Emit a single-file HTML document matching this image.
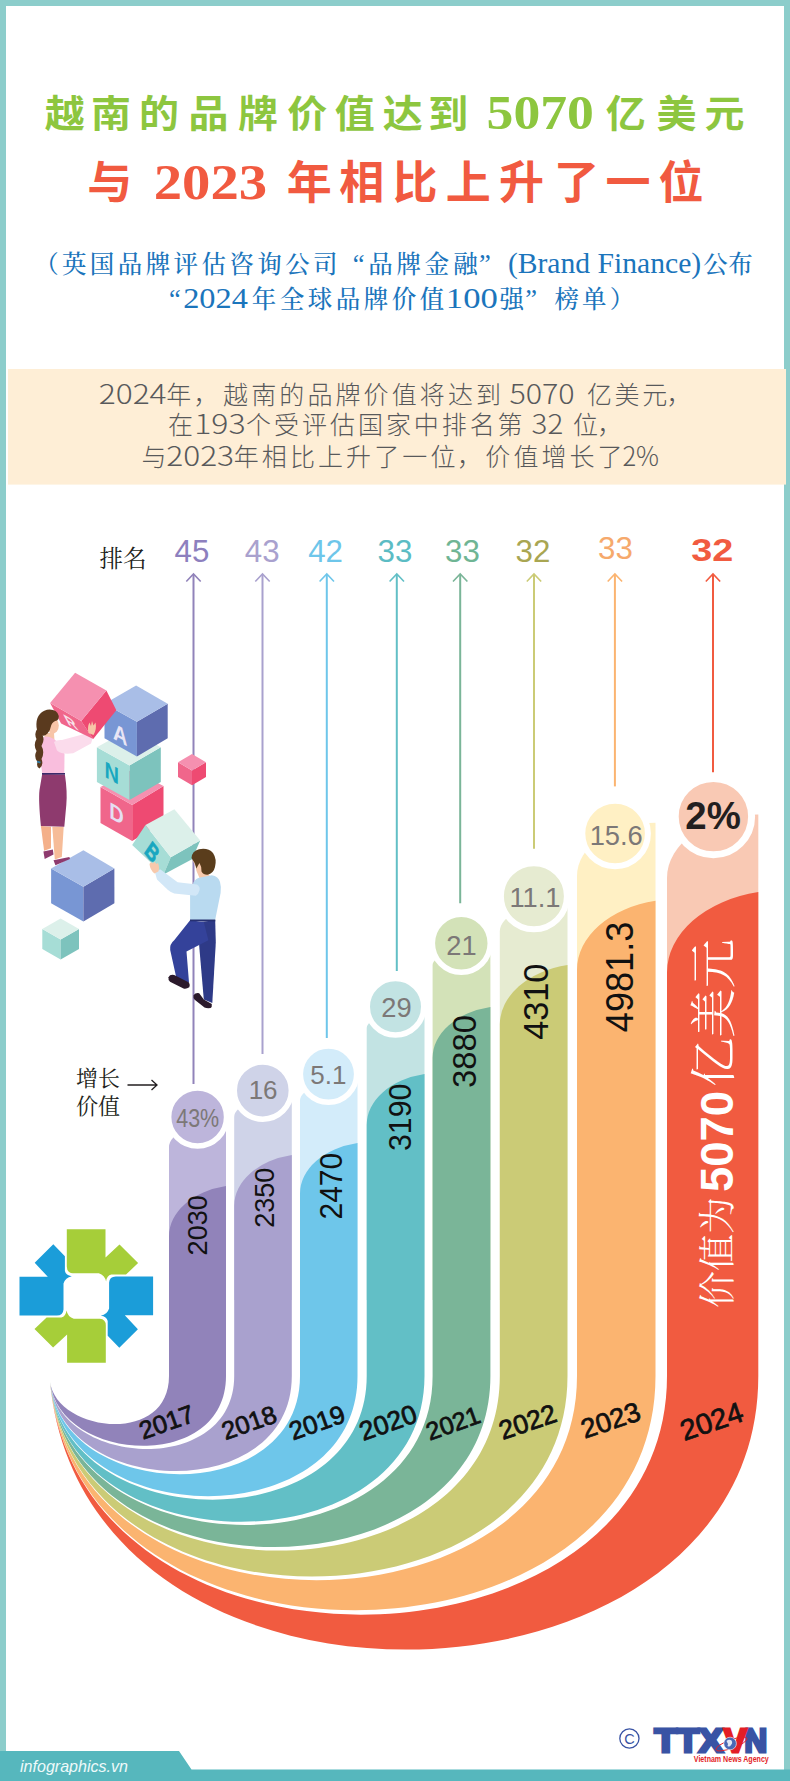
<!DOCTYPE html>
<html lang="zh"><head><meta charset="utf-8"><title>越南的品牌价值达到5070亿美元</title>
<style>html,body{margin:0;padding:0;background:#fff}svg{display:block}</style></head>
<body>
<svg width="790" height="1781" viewBox="0 0 790 1781">
<rect x="0" y="0" width="790" height="1781" fill="#fff"/>
<rect x="0" y="0" width="790" height="6" fill="#8ccdcb"/>
<rect x="0" y="0" width="6" height="1781" fill="#8ccdcb"/>
<rect x="784" y="0" width="6" height="1781" fill="#8ccdcb"/>
<path d="M0,1751 L179,1751 L191.5,1769.5 L790,1769.5 L790,1781 L0,1781 Z" fill="#56b7bd"/>
<text x="20" y="1771.5" font-family='"Liberation Sans","Noto Sans CJK SC",sans-serif' font-style="italic" font-size="17" fill="#eefafa" textLength="108" lengthAdjust="spacingAndGlyphs">infographics.vn</text>
<text x="64.8 111.0 159.1 208.5 258.0 307.3 354.8 402.8 448.3" y="127.5" font-family='"Noto Sans CJK SC","Liberation Sans",sans-serif' font-size="40" fill="#8dc63f" text-anchor="middle" font-weight="700" transform="translate(0,112) scale(1,0.94) translate(0,-112)">越南的品牌价值达到</text>
<text x="486.6" y="129" font-family='"Liberation Serif",serif' font-size="49.5" fill="#8dc63f" font-weight="700" textLength="107.3" lengthAdjust="spacingAndGlyphs">5070</text>
<text x="625.8 676.5 724.6" y="127.5" font-family='"Noto Sans CJK SC","Liberation Sans",sans-serif' font-size="40" fill="#8dc63f" text-anchor="middle" font-weight="700" transform="translate(0,112) scale(1,0.94) translate(0,-112)">亿美元</text>
<text x="109.8" y="199" font-family='"Noto Sans CJK SC","Liberation Sans",sans-serif' font-size="45" fill="#f15a40" text-anchor="middle" font-weight="700">与</text>
<text x="153.7" y="199.4" font-family='"Liberation Serif",serif' font-size="50.5" fill="#f15a40" font-weight="700" textLength="113.4" lengthAdjust="spacingAndGlyphs">2023</text>
<text x="309.2 361.8 415.0 468.3 521.5 576.5 627.9 681.0" y="199" font-family='"Noto Sans CJK SC","Liberation Sans",sans-serif' font-size="45" fill="#f15a40" text-anchor="middle" font-weight="700">年相比上升了一位</text>
<text x="46.5" y="273" font-family='"Noto Serif CJK SC","Liberation Serif",serif' font-size="24.5" fill="#1b75bc" text-anchor="middle" font-weight="500">（</text>
<text x="74.2 102.1 130.0 157.9 185.8 213.7 241.6 269.5 297.4 325.3" y="273" font-family='"Noto Serif CJK SC","Liberation Serif",serif' font-size="24.5" fill="#1b75bc" text-anchor="middle" font-weight="500">英国品牌评估咨询公司</text>
<text x="358.7" y="273" font-family='"Liberation Serif",serif' font-size="26.5" fill="#1b75bc" text-anchor="middle">“</text>
<text x="380.5 408.8 437.1 465.4" y="273" font-family='"Noto Serif CJK SC","Liberation Serif",serif' font-size="24.5" fill="#1b75bc" text-anchor="middle" font-weight="500">品牌金融</text>
<text x="484.8" y="273" font-family='"Liberation Serif",serif' font-size="26.5" fill="#1b75bc" text-anchor="middle">”</text>
<text x="507.9" y="273" font-family='"Liberation Serif",serif' font-size="29" fill="#1b75bc" textLength="193.3" lengthAdjust="spacingAndGlyphs">(Brand Finance)</text>
<text x="715.4 740.5" y="273" font-family='"Noto Serif CJK SC","Liberation Serif",serif' font-size="24.5" fill="#1b75bc" text-anchor="middle" font-weight="500">公布</text>
<text x="174.8" y="307.5" font-family='"Liberation Serif",serif' font-size="26.5" fill="#1b75bc" text-anchor="middle">“</text>
<text x="183.2" y="307.5" font-family='"Liberation Serif",serif' font-size="30" fill="#1b75bc" textLength="64.6" lengthAdjust="spacingAndGlyphs">2024</text>
<text x="264.0 292.0 320.0 348.0 376.0 404.0 432.0" y="307.5" font-family='"Noto Serif CJK SC","Liberation Serif",serif' font-size="24.5" fill="#1b75bc" text-anchor="middle" font-weight="500">年全球品牌价值</text>
<text x="445.8" y="307.5" font-family='"Liberation Serif",serif' font-size="30" fill="#1b75bc" textLength="52.0" lengthAdjust="spacingAndGlyphs">100</text>
<text x="511.7" y="307.5" font-family='"Noto Serif CJK SC","Liberation Serif",serif' font-size="24.5" fill="#1b75bc" text-anchor="middle" font-weight="500">强</text>
<text x="531.2" y="307.5" font-family='"Liberation Serif",serif' font-size="26.5" fill="#1b75bc" text-anchor="middle">”</text>
<text x="566.8 594.3" y="307.5" font-family='"Noto Serif CJK SC","Liberation Serif",serif' font-size="24.5" fill="#1b75bc" text-anchor="middle" font-weight="500">榜单</text>
<text x="622.0" y="307.5" font-family='"Noto Serif CJK SC","Liberation Serif",serif' font-size="24.5" fill="#1b75bc" text-anchor="middle" font-weight="500">）</text>
<rect x="8" y="369" width="778" height="115.6" fill="#feeed6"/>
<text x="98.7" y="403.8" font-family='"Noto Sans CJK SC","Liberation Sans",sans-serif' font-size="27" fill="#58595b" font-weight="300" textLength="67.9" lengthAdjust="spacingAndGlyphs">2024</text>
<text x="178.8" y="403.8" font-family='"Noto Sans CJK SC","Liberation Sans",sans-serif' font-size="25" fill="#58595b" text-anchor="middle" font-weight="300">年</text>
<text x="206.0" y="403.8" font-family='"Noto Sans CJK SC","Liberation Sans",sans-serif' font-size="25" fill="#58595b" text-anchor="middle" font-weight="300">，</text>
<text x="235.6 263.7 291.8 319.9 348.0 376.1 404.2 432.3 460.4 488.5" y="403.8" font-family='"Noto Sans CJK SC","Liberation Sans",sans-serif' font-size="25" fill="#58595b" text-anchor="middle" font-weight="300">越南的品牌价值将达到</text>
<text x="509.4" y="403.8" font-family='"Noto Sans CJK SC","Liberation Sans",sans-serif' font-size="27" fill="#58595b" font-weight="300" textLength="65.3" lengthAdjust="spacingAndGlyphs">5070</text>
<text x="599.4 627.1 654.8" y="403.8" font-family='"Noto Sans CJK SC","Liberation Sans",sans-serif' font-size="25" fill="#58595b" text-anchor="middle" font-weight="300">亿美元</text>
<text x="679.0" y="403.8" font-family='"Noto Sans CJK SC","Liberation Sans",sans-serif' font-size="25" fill="#58595b" text-anchor="middle" font-weight="300">，</text>
<text x="180.4" y="434.4" font-family='"Noto Sans CJK SC","Liberation Sans",sans-serif' font-size="25" fill="#58595b" text-anchor="middle" font-weight="300">在</text>
<text x="194.2" y="434.4" font-family='"Noto Sans CJK SC","Liberation Sans",sans-serif' font-size="27" fill="#58595b" font-weight="300" textLength="51.4" lengthAdjust="spacingAndGlyphs">193</text>
<text x="258.6 286.6 314.5 342.5 370.4 398.4 426.3 454.2 482.2 510.1" y="434.4" font-family='"Noto Sans CJK SC","Liberation Sans",sans-serif' font-size="25" fill="#58595b" text-anchor="middle" font-weight="300">个受评估国家中排名第</text>
<text x="531.6" y="434.4" font-family='"Noto Sans CJK SC","Liberation Sans",sans-serif' font-size="27" fill="#58595b" font-weight="300" textLength="31.6" lengthAdjust="spacingAndGlyphs">32</text>
<text x="585.5" y="434.4" font-family='"Noto Sans CJK SC","Liberation Sans",sans-serif' font-size="25" fill="#58595b" text-anchor="middle" font-weight="300">位</text>
<text x="609.8" y="434.4" font-family='"Noto Sans CJK SC","Liberation Sans",sans-serif' font-size="25" fill="#58595b" text-anchor="middle" font-weight="300">，</text>
<text x="154.0" y="466.3" font-family='"Noto Sans CJK SC","Liberation Sans",sans-serif' font-size="25" fill="#58595b" text-anchor="middle" font-weight="300">与</text>
<text x="166.2" y="466.3" font-family='"Noto Sans CJK SC","Liberation Sans",sans-serif' font-size="27" fill="#58595b" font-weight="300" textLength="67.9" lengthAdjust="spacingAndGlyphs">2023</text>
<text x="246.2 274.3 302.4 330.5 358.6 386.7 414.8 442.9" y="466.3" font-family='"Noto Sans CJK SC","Liberation Sans",sans-serif' font-size="25" fill="#58595b" text-anchor="middle" font-weight="300">年相比上升了一位</text>
<text x="469.6" y="466.3" font-family='"Noto Sans CJK SC","Liberation Sans",sans-serif' font-size="25" fill="#58595b" text-anchor="middle" font-weight="300">，</text>
<text x="497.8 525.9 553.9 582.0 610.0" y="466.3" font-family='"Noto Sans CJK SC","Liberation Sans",sans-serif' font-size="25" fill="#58595b" text-anchor="middle" font-weight="300">价值增长了</text>
<text x="622.4" y="466.3" font-family='"Noto Sans CJK SC","Liberation Sans",sans-serif' font-size="27" fill="#58595b" font-weight="300" textLength="36.6" lengthAdjust="spacingAndGlyphs">2%</text>
<path d="M193.5,1084 L193.5,575" fill="none" stroke="#9183ba" stroke-width="2"/>
<path d="M186.3,581.5 L193.5,574 L200.7,581.5" fill="none" stroke="#9183ba" stroke-width="1.6"/>
<path d="M262.5,1054 L262.5,575" fill="none" stroke="#a9a1ce" stroke-width="2"/>
<path d="M255.3,581.5 L262.5,574 L269.7,581.5" fill="none" stroke="#a9a1ce" stroke-width="1.6"/>
<path d="M326.8,1038 L326.8,575" fill="none" stroke="#6ec6ea" stroke-width="2"/>
<path d="M319.6,581.5 L326.8,574 L334.0,581.5" fill="none" stroke="#6ec6ea" stroke-width="1.6"/>
<path d="M396.8,971 L396.8,575" fill="none" stroke="#62bfc6" stroke-width="2"/>
<path d="M389.6,581.5 L396.8,574 L404.0,581.5" fill="none" stroke="#62bfc6" stroke-width="1.6"/>
<path d="M460.2,903.3 L460.2,575" fill="none" stroke="#7ab598" stroke-width="2"/>
<path d="M453.0,581.5 L460.2,574 L467.4,581.5" fill="none" stroke="#7ab598" stroke-width="1.6"/>
<path d="M534,848.8 L534,575" fill="none" stroke="#cbcb76" stroke-width="2"/>
<path d="M526.8,581.5 L534,574 L541.2,581.5" fill="none" stroke="#cbcb76" stroke-width="1.6"/>
<path d="M614.9,786.4 L614.9,575" fill="none" stroke="#fbb470" stroke-width="2"/>
<path d="M607.6999999999999,581.5 L614.9,574 L622.1,581.5" fill="none" stroke="#fbb470" stroke-width="1.6"/>
<path d="M713,772.3 L713,575" fill="none" stroke="#f15b40" stroke-width="2"/>
<path d="M705.8,581.5 L713,574 L720.2,581.5" fill="none" stroke="#f15b40" stroke-width="1.6"/>
<path d="M169,1300 L169,1147 A57.00,25.00 0 0 1 226,1122 L226,1300 Z" fill="#bdb5db"/>
<path d="M234.2,1300 L234.2,1117 A57.60,21.40 0 0 1 291.8,1095.6 L291.8,1300 Z" fill="#cfd3e8"/>
<path d="M300,1300 L300,1101 A57.50,21.90 0 0 1 357.5,1079.1 L357.5,1300 Z" fill="#d3ecfa"/>
<path d="M366.7,1300 L366.7,1028 A57.80,16.20 0 0 1 424.5,1011.8 L424.5,1300 Z" fill="#c2e3e3"/>
<path d="M432.6,1300 L432.6,965 A57.80,16.70 0 0 1 490.4,948.3 L490.4,1300 Z" fill="#d3e2b8"/>
<path d="M499.8,1300 L499.8,931.5 A67.70,30.30 0 0 1 567.5,901.2 L567.5,1300 Z" fill="#e6ebd1"/>
<path d="M577,1300 L577,875.7 A78.50,52.90 0 0 1 655.5,822.8 L655.5,1300 Z" fill="#fff0c4"/>
<path d="M667,1300 L667,878 A91.30,63.60 0 0 1 758.3,814.4 L758.3,1300 Z" fill="#f9c9b4"/>
<path d="M169,1276.16 L169,1236.16 A72.39,51.33 0 0 1 226,1186 L226,1376.0 C226.00,1473.60 58.80,1462.82 50.0,1381.5 C55.95,1431.76 169.00,1446.53 169.00,1376.0 Z" fill="#9183ba"/>
<path d="M234.2,1245.688 L234.2,1205.688 A73.15,51.87 0 0 1 291.8,1155 L291.8,1376.0 C291.80,1504.86 62.09,1498.68 50.0,1381.5 C59.21,1467.29 234.20,1477.49 234.20,1376.0 Z" fill="#a9a1ce"/>
<path d="M300,1233.6 L300,1193.6 A73.03,51.78 0 0 1 357.5,1143 L357.5,1376.0 C357.50,1536.06 65.38,1534.49 50.0,1381.5 C62.50,1503.15 300.00,1508.75 300.00,1376.0 Z" fill="#6ec6ea"/>
<path d="M366.7,1164.864 L366.7,1124.864 A73.41,52.05 0 0 1 424.5,1074 L424.5,1376.0 C424.50,1567.89 68.72,1571.00 50.0,1381.5 C65.84,1539.50 366.70,1540.43 366.70,1376.0 Z" fill="#62bfc6"/>
<path d="M432.6,1097.864 L432.6,1057.864 A73.41,52.05 0 0 1 490.4,1007 L490.4,1376.0 C490.40,1599.19 72.02,1606.92 50.0,1381.5 C69.13,1575.42 432.60,1571.74 432.60,1376.0 Z" fill="#7ab598"/>
<path d="M499.8,1064.576 L499.8,1024.576 A85.98,60.97 0 0 1 567.5,965 L567.5,1376.0 C567.50,1635.81 75.88,1648.94 50.0,1381.5 C72.49,1612.04 499.80,1603.65 499.80,1376.0 Z" fill="#cbcb76"/>
<path d="M577,1009.88 L577,969.88 A99.70,70.70 0 0 1 655.5,900.8 L655.5,1376.0 C655.50,1677.61 80.28,1696.90 50.0,1381.5 C76.35,1654.12 577.00,1640.33 577.00,1376.0 Z" fill="#fbb470"/>
<path d="M667,1012.3439999999999 L667,972.3439999999999 A115.95,82.22 0 0 1 758.3,892 L758.3,1376.0 C758.30,1726.44 85.41,1752.92 50.0,1381.5 C80.85,1703.16 667.00,1683.08 667.00,1376.0 Z" fill="#f15b40"/>
<circle cx="197.6" cy="1117" r="28.95" fill="#bdb5db" stroke="#fff" stroke-width="5.5"/>
<circle cx="262.8" cy="1090.6" r="28.55" fill="#cfd3e8" stroke="#fff" stroke-width="5.5"/>
<circle cx="328.5" cy="1074.1" r="28.15" fill="#d3ecfa" stroke="#fff" stroke-width="5.5"/>
<circle cx="395.5" cy="1006.8" r="28.25" fill="#c2e3e3" stroke="#fff" stroke-width="5.5"/>
<circle cx="461.3" cy="943.3" r="28.95" fill="#d3e2b8" stroke="#fff" stroke-width="5.5"/>
<circle cx="533.9" cy="896.2" r="33.0" fill="#e6ebd1" stroke="#fff" stroke-width="6"/>
<circle cx="615.1" cy="833.5" r="32.8" fill="#fff0c4" stroke="#fff" stroke-width="6"/>
<circle cx="713.4" cy="816.6" r="38.2" fill="#f9c9b4" stroke="#fff" stroke-width="7"/>
<polygon points="51.1,868.4 83.4,886.7 83.4,921.5 51.1,903.2" fill="#7896d4"/>
<polygon points="83.4,886.7 114.4,868.4 114.4,903.2 83.4,921.5" fill="#5e6caf"/>
<polygon points="83.4,850.3 114.4,868.4 83.4,886.7 51.1,868.4" fill="#a9bee7"/>
<polygon points="42.3,929.1 60.6,939.6 60.6,959.6 42.3,949.1" fill="#a6ddd6"/>
<polygon points="60.6,939.6 79.0,929.1 79.0,949.1 60.6,959.6" fill="#7dc3bd"/>
<polygon points="60.6,918.4 79.0,929.1 60.6,939.6 42.3,929.1" fill="#dcf0ea"/>
<polygon points="178.0,762.2 192.0,770.4 192.0,785.2 178.0,777.0" fill="#f0668b"/>
<polygon points="192.0,770.4 206.0,762.2 206.0,777.0 192.0,785.2" fill="#ee4a72"/>
<polygon points="192.0,753.9 206.0,762.2 192.0,770.4 178.0,762.2" fill="#f590b0"/>
<polygon points="100.5,787.1 132.2,805.1 132.2,841.1 100.5,823.1" fill="#f0668b"/>
<polygon points="132.2,805.1 163.5,786.1 163.5,822.1 132.2,841.1" fill="#ee4a72"/>
<polygon points="132.0,769.5 163.5,786.1 132.2,805.1 100.5,787.1" fill="#f590b0"/>
<polygon points="96.9,747.3 129.5,765.4 129.5,800.0 96.9,781.9" fill="#a6ddd6"/>
<polygon points="129.5,765.4 160.8,747.3 160.8,781.9 129.5,800.0" fill="#7dc3bd"/>
<polygon points="129.5,729.2 160.8,747.3 129.5,765.4 96.9,747.3" fill="#dcf0ea"/>
<polygon points="104.5,703.7 136.9,721.8 136.9,756.4 104.5,738.3" fill="#7896d4"/>
<polygon points="136.9,721.8 167.7,703.7 167.7,738.3 136.9,756.4" fill="#5e6caf"/>
<polygon points="136.1,685.6 167.7,703.7 136.9,721.8 104.5,703.7" fill="#a9bee7"/>
<polygon points="132.2,845.0 145.5,825.1 170.8,857.3 163.5,874.4" fill="#a6ddd6"/>
<polygon points="170.8,857.3 200.2,840.6 192.0,859.2 163.5,874.4" fill="#7dc3bd"/>
<polygon points="145.5,825.1 174.4,809.3 200.2,840.6 170.8,857.3" fill="#dcf0ea"/>
<polygon points="40.9,826.1 51.0,826.7 51.0,848.2 44.1,850.8" fill="#f4b08a"/>
<polygon points="52.3,826.7 63.7,826.7 61.8,857.1 54.8,859.6" fill="#f6bc98"/>
<polygon points="43.4,851.4 52.9,849.5 53.5,854.6 44.7,859.0" fill="#8e3a6e"/>
<polygon points="53.5,860.3 69.4,857.1 70.0,859.0 55.4,865.3" fill="#8e3a6e"/>
<path d="M42.2,774 L64.9,774.6 Q67.5,792 66.3,805 L64.3,826.7 L40.9,826.1 Q38.3,800 39.5,790 Z" fill="#8e3a6e"/>
<path d="M45,733 L54,733 L54.5,741 L44,740 Z" fill="#f7c5a8"/>
<path d="M43.4,737 Q48,735.5 53,738.5 Q62,744 64.5,754 L64.3,773.8 L42.2,773.2 Q39.5,756 40.8,748 Z" fill="#f9bedd"/>
<path d="M54,742 Q57,739.5 62,740 L88,733 L93,737 L91,743.5 L73.2,753.3 Q62,755 57,750.5 Z" fill="#fbdcec"/>
<polygon points="50.1,703.1 81.2,720.9 93.2,739.0 61.1,723.4" fill="#f0668b"/>
<polygon points="81.2,720.9 106.4,690.4 116.3,710.2 93.2,739.0" fill="#ee4a72"/>
<polygon points="50.1,703.1 75.1,672.8 106.4,690.4 81.2,720.9" fill="#f590b0"/>
<path d="M88.5,733 Q87,727 89.5,722.5 L91,726 L92,721 L93.5,725.5 L95.5,722.5 Q97,729 93.5,735 Z" fill="#f7c5a8"/>
<ellipse cx="52.6" cy="725.5" rx="6.2" ry="8.3" fill="#f7c5a8"/>
<path d="M36.5,727 Q35.5,713 47,709.8 Q56.5,708.5 58.8,716 Q59,719.5 57,720.5 Q53,721 51.3,725 Q50.5,730 47.5,733.5 Q44,737 41,735 Q37,733 36.5,727 Z" fill="#5a3a1e"/>
<path d="M38,728 Q33.5,733 36.5,739 Q33,745 36.5,751 Q33.5,757 37.5,762 Q36,767 39.5,768.5 Q44,765 41.5,759 Q45,752 41.5,746 Q45,740 42.5,735 Z" fill="#5a3a1e"/>
<rect x="37" y="761.2" width="3.6" height="1.8" fill="#2f7fa8" transform="rotate(20 38.8 762)"/>
<rect x="42" y="773" width="23" height="1.6" fill="#3b2a6b"/>
<polygon points="199.2,922.0 215.2,920.3 215.8,942.5 212.3,1002.9 203.8,999.5 199.2,945.9" fill="#2e3a87"/>
<path d="M190.1,920.3 L203.8,922 L208.4,940.2 L186.5,951.6 L189,982.4 L177.6,983.5 L170.2,950 Q169.5,944 174.2,940.2 Z" fill="#34429a"/>
<path d="M168.5,977.2 Q170,974 174.2,975 L189,982.4 Q190.5,985.5 189.3,987.3 Q186.5,989.3 183.5,988.6 L170,981.8 Q168,980 168.5,977.2 Z" fill="#2b1a2b"/>
<path d="M193.5,995.2 Q195.5,992.5 199.2,993.2 L203.8,999.5 L211.8,1004 Q212.2,1007 210.6,1008 Q207,1008.5 204.5,1007.5 L194.7,999.8 Q193,997.5 193.5,995.2 Z" fill="#2b1a2b"/>
<path d="M192.5,860 Q196,866 196.5,871 L199.5,878 L210,877 L207,868 L198,858 Z" fill="#f7c9ac"/>
<path d="M193.5,882.2 Q196,878 200.4,877.4 L211.8,875.3 Q218.5,876.5 220,882 Q221.5,887 220.6,893 L215.2,919.7 L190.1,920.3 L190.1,894.7 Z" fill="#b9daf0"/>
<rect x="190" y="919.5" width="25.3" height="1.8" fill="#263070"/>
<path d="M155,872.5 Q157,869.5 160.5,869.6 L177.6,882.2 L197,884.4 Q200.5,886.5 199.4,890.5 Q198.5,894.5 195.8,895.8 L174.2,893.5 Q171,892.5 168,890 L157,879.5 Z" fill="#d2e7f7"/>
<path d="M149.5,864 Q151,861.5 153,863.5 L154.5,861.8 L156.5,864 L158,863 Q160,868 158.3,871.5 L154.5,873.5 Q150,870 149.5,864 Z" fill="#f7c9ac"/>
<path d="M191.5,858 Q192,851 199,849.3 Q208,847.5 213,853 Q217,859 215,867 Q213.5,873.5 207.5,874.8 Q203.5,875 201.5,871.5 Q201.5,866 199.5,863 Q197.5,866 196.5,868.5 Q195.5,863 191.5,858 Z" fill="#5a3d1c"/>
<text transform="matrix(0.868,0.497,0.476,0.879,67.9,724.6)" font-family='"Liberation Sans","DejaVu Sans",sans-serif' font-weight="700" font-size="18" fill="#f9e3ec">R</text>
<text transform="matrix(0.872,0.49,0,1,113,738.5)" font-family='"Liberation Sans","DejaVu Sans",sans-serif' font-weight="700" font-size="23" fill="#e9e5f5">A</text>
<text transform="matrix(0.872,0.49,0,1,104.6,776.8)" font-family='"Liberation Sans","DejaVu Sans",sans-serif' font-weight="700" font-size="23" fill="#18a7c0">N</text>
<text transform="matrix(0.872,0.49,0,1,109.2,817.5)" font-family='"Liberation Sans","DejaVu Sans",sans-serif' font-weight="700" font-size="23" fill="#e6def1">D</text>
<text transform="matrix(0.618,0.787,-0.555,0.832,143.6,852.2)" font-family='"Liberation Sans","DejaVu Sans",sans-serif' font-weight="700" font-size="21" fill="#18a7c0" stroke="#18a7c0" stroke-width="0.7">B</text>
<text x="99.5" y="567" font-family='"Noto Serif CJK SC","Liberation Serif",serif' font-size="23.5" fill="#231f20">排名</text>
<text x="174.5" y="562.4" font-family='"Liberation Sans","Noto Sans CJK SC",sans-serif' font-size="30.5" fill="#8d80be" textLength="34.8" lengthAdjust="spacingAndGlyphs">45</text>
<text x="244.79999999999998" y="562.4" font-family='"Liberation Sans","Noto Sans CJK SC",sans-serif' font-size="30.5" fill="#a9a1ce" textLength="34.8" lengthAdjust="spacingAndGlyphs">43</text>
<text x="308.20000000000005" y="562.4" font-family='"Liberation Sans","Noto Sans CJK SC",sans-serif' font-size="30.5" fill="#6ec6ea" textLength="34.8" lengthAdjust="spacingAndGlyphs">42</text>
<text x="377.6" y="562.4" font-family='"Liberation Sans","Noto Sans CJK SC",sans-serif' font-size="30.5" fill="#5bbcc4" textLength="34.8" lengthAdjust="spacingAndGlyphs">33</text>
<text x="445.1" y="562.4" font-family='"Liberation Sans","Noto Sans CJK SC",sans-serif' font-size="30.5" fill="#6fb594" textLength="34.8" lengthAdjust="spacingAndGlyphs">33</text>
<text x="515.6" y="562.4" font-family='"Liberation Sans","Noto Sans CJK SC",sans-serif' font-size="30.5" fill="#a9a652" textLength="34.8" lengthAdjust="spacingAndGlyphs">32</text>
<text x="598.1" y="558.8" font-family='"Liberation Sans","Noto Sans CJK SC",sans-serif' font-size="30.5" fill="#f6a96c" textLength="34.8" lengthAdjust="spacingAndGlyphs">33</text>
<text x="691.3" y="561" font-family='"Liberation Sans","Noto Sans CJK SC",sans-serif' font-size="31.8" fill="#f15b40" font-weight="700" textLength="42" lengthAdjust="spacingAndGlyphs">32</text>
<text x="76" y="1086" font-family='"Noto Serif CJK SC","Liberation Serif",serif' font-size="22" fill="#231f20">增长</text>
<text x="76" y="1113.5" font-family='"Noto Serif CJK SC","Liberation Serif",serif' font-size="22" fill="#231f20">价值</text>
<path d="M127.5,1085 L157,1085 M151.5,1080 L157,1085 L151.5,1090" fill="none" stroke="#231f20" stroke-width="1.3"/>
<text x="176.2" y="1127.2" font-family='"Liberation Sans","Noto Sans CJK SC",sans-serif' font-size="26" fill="#7c7877" textLength="43" lengthAdjust="spacingAndGlyphs">43%</text>
<text x="263.1" y="1099.4" font-family='"Liberation Sans","Noto Sans CJK SC",sans-serif' font-size="26" fill="#7c7877" text-anchor="middle">16</text>
<text x="328.3" y="1084.2" font-family='"Liberation Sans","Noto Sans CJK SC",sans-serif' font-size="26" fill="#7c7877" text-anchor="middle">5.1</text>
<text x="396.5" y="1016.7" font-family='"Liberation Sans","Noto Sans CJK SC",sans-serif' font-size="27.3" fill="#7c7877" text-anchor="middle">29</text>
<text x="461.5" y="954.5" font-family='"Liberation Sans","Noto Sans CJK SC",sans-serif' font-size="27.3" fill="#7c7877" text-anchor="middle">21</text>
<text x="535" y="906.5" font-family='"Liberation Sans","Noto Sans CJK SC",sans-serif' font-size="27.3" fill="#7c7877" text-anchor="middle">11.1</text>
<text x="616.2" y="845" font-family='"Liberation Sans","Noto Sans CJK SC",sans-serif' font-size="27.3" fill="#7c7877" text-anchor="middle">15.6</text>
<text x="713.1" y="829.2" font-family='"Liberation Sans","Noto Sans CJK SC",sans-serif' font-size="38.4" fill="#231f20" font-weight="700" text-anchor="middle">2%</text>
<text x="0" y="0" font-family='"Liberation Sans","Noto Sans CJK SC",sans-serif' font-size="28.4" fill="#111" textLength="60.2" lengthAdjust="spacingAndGlyphs" transform="translate(206.8,1255.4) rotate(-90)">2030</text>
<text x="0" y="0" font-family='"Liberation Sans","Noto Sans CJK SC",sans-serif' font-size="28.4" fill="#111" textLength="60.2" lengthAdjust="spacingAndGlyphs" transform="translate(274.4,1227.8) rotate(-90)">2350</text>
<text x="0" y="0" font-family='"Liberation Sans","Noto Sans CJK SC",sans-serif' font-size="31.1" fill="#111" textLength="66.6" lengthAdjust="spacingAndGlyphs" transform="translate(341.7,1219.5) rotate(-90)">2470</text>
<text x="0" y="0" font-family='"Liberation Sans","Noto Sans CJK SC",sans-serif' font-size="31.1" fill="#111" textLength="67.3" lengthAdjust="spacingAndGlyphs" transform="translate(411,1151) rotate(-90)">3190</text>
<text x="0" y="0" font-family='"Liberation Sans","Noto Sans CJK SC",sans-serif' font-size="33.9" fill="#111" textLength="73" lengthAdjust="spacingAndGlyphs" transform="translate(475.9,1088) rotate(-90)">3880</text>
<text x="0" y="0" font-family='"Liberation Sans","Noto Sans CJK SC",sans-serif' font-size="35.6" fill="#111" textLength="76.2" lengthAdjust="spacingAndGlyphs" transform="translate(548.1,1039.8) rotate(-90)">4310</text>
<text x="0" y="0" font-family='"Liberation Sans","Noto Sans CJK SC",sans-serif' font-size="38.8" fill="#111" textLength="110.5" lengthAdjust="spacingAndGlyphs" transform="translate(632.8,1032.2) rotate(-90)">4981.3</text>
<text x="0" y="9.06" font-family='"Liberation Sans","Noto Sans CJK SC",sans-serif' font-size="25.3" fill="#111" text-anchor="middle" transform="translate(166.5,1421.8) rotate(-19.5)" stroke="#111" stroke-width="0.75">2017</text>
<text x="0" y="9.06" font-family='"Liberation Sans","Noto Sans CJK SC",sans-serif' font-size="25.3" fill="#111" text-anchor="middle" transform="translate(249,1422.3) rotate(-19.5)" stroke="#111" stroke-width="0.75">2018</text>
<text x="0" y="9.24" font-family='"Liberation Sans","Noto Sans CJK SC",sans-serif' font-size="25.8" fill="#111" text-anchor="middle" transform="translate(316.9,1422.3) rotate(-19.5)" stroke="#111" stroke-width="0.75">2019</text>
<text x="0" y="9.49" font-family='"Liberation Sans","Noto Sans CJK SC",sans-serif' font-size="26.5" fill="#111" text-anchor="middle" transform="translate(387.9,1422.3) rotate(-19.5)" stroke="#111" stroke-width="0.75">2020</text>
<text x="0" y="8.95" font-family='"Liberation Sans","Noto Sans CJK SC",sans-serif' font-size="25" fill="#111" text-anchor="middle" transform="translate(453,1423) rotate(-19.5)" stroke="#111" stroke-width="0.75">2021</text>
<text x="0" y="9.49" font-family='"Liberation Sans","Noto Sans CJK SC",sans-serif' font-size="26.5" fill="#111" text-anchor="middle" transform="translate(527.5,1421.5) rotate(-19)" stroke="#111" stroke-width="0.75">2022</text>
<text x="0" y="9.77" font-family='"Liberation Sans","Noto Sans CJK SC",sans-serif' font-size="27.3" fill="#111" text-anchor="middle" transform="translate(610.5,1419.8) rotate(-18.5)" stroke="#111" stroke-width="0.75">2023</text>
<text x="0" y="10.38" font-family='"Liberation Sans","Noto Sans CJK SC",sans-serif' font-size="29" fill="#111" text-anchor="middle" transform="translate(711.5,1420.8) rotate(-18.5)" stroke="#111" stroke-width="0.75">2024</text>
<text x="0" y="0" font-family='"Noto Serif CJK SC","Liberation Serif",serif' font-size="37" fill="#fff" font-weight="300" textLength="111" lengthAdjust="spacingAndGlyphs" transform="translate(731,1308) rotate(-90)">价值为</text>
<text x="0" y="0" font-family='"Liberation Sans","Noto Sans CJK SC",sans-serif' font-size="45.5" fill="#fff" font-weight="700" textLength="101" lengthAdjust="spacingAndGlyphs" transform="translate(733,1192) rotate(-90)">5070</text>
<text x="0" y="0" font-family='"Noto Serif CJK SC","Liberation Serif",serif' font-size="47" fill="#fff" font-weight="300" textLength="148" lengthAdjust="spacingAndGlyphs" transform="translate(730,1087) rotate(-90)">亿美元</text>
<path transform="translate(86.3,1296) rotate(0)" d="M-19.5,-66.8 L19.2,-66.8 L19.2,-38.5 L33.2,-51.6 L51.8,-33 L39.7,-21.4 L25,-21.4 Q20.5,-20.5 19.8,-14.5 Q18.5,-21 12.5,-22.8 L-13.5,-22.8 Q-19.5,-23.2 -19.5,-29.5 Z" fill="#a6ce39"/>
<path transform="translate(86.3,1296) rotate(90)" d="M-19.5,-66.8 L19.2,-66.8 L19.2,-38.5 L33.2,-51.6 L51.8,-33 L39.7,-21.4 L25,-21.4 Q20.5,-20.5 19.8,-14.5 Q18.5,-21 12.5,-22.8 L-13.5,-22.8 Q-19.5,-23.2 -19.5,-29.5 Z" fill="#1b9dd9"/>
<path transform="translate(86.3,1296) rotate(180)" d="M-19.5,-66.8 L19.2,-66.8 L19.2,-38.5 L33.2,-51.6 L51.8,-33 L39.7,-21.4 L25,-21.4 Q20.5,-20.5 19.8,-14.5 Q18.5,-21 12.5,-22.8 L-13.5,-22.8 Q-19.5,-23.2 -19.5,-29.5 Z" fill="#a6ce39"/>
<path transform="translate(86.3,1296) rotate(270)" d="M-19.5,-66.8 L19.2,-66.8 L19.2,-38.5 L33.2,-51.6 L51.8,-33 L39.7,-21.4 L25,-21.4 Q20.5,-20.5 19.8,-14.5 Q18.5,-21 12.5,-22.8 L-13.5,-22.8 Q-19.5,-23.2 -19.5,-29.5 Z" fill="#1b9dd9"/>
<circle cx="629.4" cy="1738.5" r="9.6" fill="none" stroke="#3953a4" stroke-width="1.3"/>
<text x="629.4" y="1743.6" font-family='"Liberation Sans","Noto Sans CJK SC",sans-serif' font-size="14.5" fill="#3953a4" text-anchor="middle">C</text>
<text x="654.6" y="1752.2" font-family='"Liberation Sans","DejaVu Sans",sans-serif' font-weight="700" font-size="32.5" fill="#3953a4" stroke="#3953a4" stroke-width="3" stroke-linejoin="miter" paint-order="stroke" textLength="22.5" lengthAdjust="spacingAndGlyphs">T</text>
<text x="677" y="1752.2" font-family='"Liberation Sans","DejaVu Sans",sans-serif' font-weight="700" font-size="32.5" fill="#3953a4" stroke="#3953a4" stroke-width="3" stroke-linejoin="miter" paint-order="stroke" textLength="22" lengthAdjust="spacingAndGlyphs">T</text>
<text x="699" y="1752.2" font-family='"Liberation Sans","DejaVu Sans",sans-serif' font-weight="700" font-size="32.5" fill="#3953a4" stroke="#3953a4" stroke-width="3" stroke-linejoin="miter" paint-order="stroke" textLength="24" lengthAdjust="spacingAndGlyphs">X</text>
<text x="744.6" y="1752.2" font-family='"Liberation Sans","DejaVu Sans",sans-serif' font-weight="700" font-size="32.5" fill="#3953a4" stroke="#3953a4" stroke-width="3" stroke-linejoin="miter" paint-order="stroke" textLength="22.6" lengthAdjust="spacingAndGlyphs">N</text>
<text x="724" y="1752.2" font-family='"Liberation Sans","DejaVu Sans",sans-serif' font-weight="700" font-size="32.5" fill="#e31e26" stroke="#e31e26" stroke-width="3" stroke-linejoin="miter" paint-order="stroke" textLength="22.5" lengthAdjust="spacingAndGlyphs">V</text>
<ellipse cx="731.5" cy="1744" rx="16.5" ry="4.2" fill="none" stroke="#e31e26" stroke-width="0.9" transform="rotate(-20 731.5 1744)"/>
<circle cx="730.1" cy="1743.5" r="6.3" fill="#4a67b5" stroke="#fff" stroke-width="0.6"/>
<path d="M726.5,1741 Q729,1739 731.5,1740.5 Q733,1743 731,1745 Q729.5,1747.5 727.5,1746 Q728.5,1743.5 726.5,1741 Z" fill="#dfe6f5"/>
<text x="693.8" y="1762.3" font-family='"Liberation Sans","DejaVu Sans",sans-serif' font-weight="700" font-size="8.4" fill="#e31e26" textLength="75" lengthAdjust="spacingAndGlyphs">Vietnam News Agency</text>
</svg>
</body></html>
